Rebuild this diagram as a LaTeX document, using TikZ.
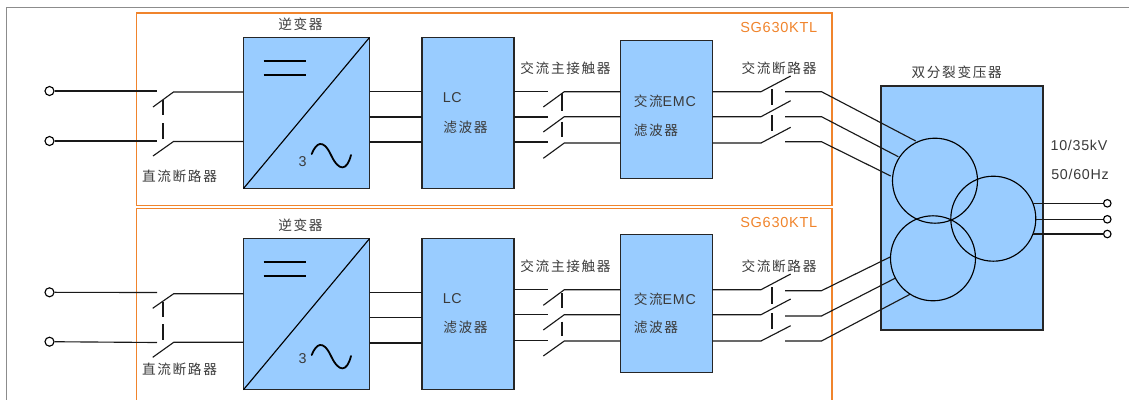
\documentclass[tikz,border=0pt]{standalone}
\usepackage{fontspec}
\setmainfont[LetterSpace=5]{Liberation Sans}
\newfontfamily\cjk[LetterSpace=12]{Noto Sans CJK SC}
\newcommand\cn{\cjk\fontsize{10.25pt}{12pt}\selectfont}
\definecolor{blk}{HTML}{99CCFF}
\definecolor{org}{HTML}{F0842C}
\definecolor{txt}{HTML}{3A3A3A}
\tikzset{
 x=0.75pt,y=-0.75pt,
 wire/.style={draw=black!90,line width=0.85pt},
 link/.style={draw=black!90,line width=0.85pt},
 block/.style={draw=black!85,line width=1pt,fill=blk,inner sep=0pt,outer sep=0pt,minimum width=#1},
 lbl/.style={text=txt,font=\fontsize{10.7pt}{12pt}\selectfont,inner sep=0pt},
 orglbl/.style={text=org,font=\fontsize{10.9pt}{12pt}\selectfont,inner sep=0pt},
 unitbox/.style={draw=org,line width=0.9pt},
 term/.style={circle,draw=black,line width=0.85pt,fill=white,inner sep=0pt,minimum size=#1},
 coil/.style={circle,draw=black,line width=0.85pt,inner sep=0pt,minimum size=85*0.75pt},
}
\begin{document}
\begin{tikzpicture}
\useasboundingbox (0,0) rectangle (1129,400);
\draw[draw=black!45,line width=0.8pt] (6.5,400) -- (6.5,7.5) -- (1129,7.5);
\draw[unitbox] (136.5,13) rectangle (832,205.5);
\draw[unitbox] (136.5,400) -- (136.5,208.5) -- (832,208.5) -- (832,400);
% ---------- blocks
\node[block=126*0.75pt,minimum height=151*0.75pt] (inv1) at (306.5,113) {};
\node[block=92*0.75pt,minimum height=151*0.75pt] (lc1) at (468,113) {};
\node[block=92*0.75pt,minimum height=138*0.75pt] (emc1) at (666.3,109.3) {};
\node[block=126*0.75pt,minimum height=151*0.75pt] (inv2) at (306.5,314.2) {};
\node[block=92*0.75pt,minimum height=151*0.75pt] (lc2) at (468,314.2) {};
\node[block=92*0.75pt,minimum height=138*0.75pt] (emc2) at (666.3,303.3) {};
\node[block=162*0.75pt,minimum height=244*0.75pt] (tr) at (962,208) {};
% inverter symbols
\draw[line width=0.85pt] (inv1.south west) -- (inv1.north east);
\draw[line width=0.85pt] (inv2.south west) -- (inv2.north east);
\draw[line width=1pt] (263.5,61) -- (306,61) (263.5,75) -- (306,75);
\draw[line width=1pt] (263.5,262) -- (306,262) (263.5,276) -- (306,276);
\draw[line width=1.35pt,line cap=round] (311.7,154) .. controls (316,143) and (323,138) .. (331,155) .. controls (339,172) and (347,171) .. (351,155);
\draw[line width=1.35pt,line cap=round] (311.7,355) .. controls (316,344) and (323,339) .. (331,356) .. controls (339,373) and (347,372) .. (351,356);
\node[lbl] (three1) at (302.5,162) {3};
\node[lbl] (three2) at (302.5,359) {3};
% ---------- terminals
\node[term=9*0.75pt] (a1) at (49.5,91) {};
\node[term=9*0.75pt] (a2) at (49.5,141) {};
\node[term=9*0.75pt] (b1) at (49.5,292.3) {};
\node[term=9*0.75pt] (b2) at (49.5,341.7) {};
\node[term=7.5*0.75pt] (o1) at (1107.3,203.3) {};
\node[term=7.5*0.75pt] (o2) at (1107.3,219.3) {};
\node[term=7.5*0.75pt] (o3) at (1107.3,234) {};
% ---------- DC breaker, upper
\coordinate (s1a) at (157,91); \coordinate (s1b) at (157,141);
\draw[wire] (a1) -- (s1a);
\draw[wire] (a2) -- (s1b);
\draw[wire] (153,107) -- (173.5,92) -- (inv1.west |- 0,92);
\draw[wire] (153,156) -- (173.5,141.5) -- (inv1.west |- 0,141.5);
\draw[link] (163,100) -- (163,115) (163,123) -- (163,139);
% upper AC wires inv -> lc
\draw[wire] (inv1.east |- 0,91.5) -- (lc1.west |- 0,91.5);
\draw[wire] (inv1.east |- 0,117) -- (lc1.west |- 0,117);
\draw[wire] (inv1.east |- 0,142) -- (lc1.west |- 0,142);
% upper contactor
\draw[wire] (lc1.east |- 0,91.5) -- (548,91.5);
\draw[wire] (lc1.east |- 0,117) -- (548,117);
\draw[wire] (lc1.east |- 0,142) -- (548,142);
\draw[wire] (543.3,107) -- (564.3,91.7) -- (emc1.west |- 0,91.7);
\draw[wire] (543.3,132) -- (564.3,116.7) -- (emc1.west |- 0,116.7);
\draw[wire] (543.3,158.3) -- (564.3,143) -- (emc1.west |- 0,143);
\draw[link] (562,92.7) -- (562,110.7) (562,121.7) -- (562,137.3);
% upper AC breaker
\draw[wire] (emc1.east |- 0,91.7) -- (761,91.7) -- (790.7,76);
\draw[wire] (emc1.east |- 0,116.7) -- (761,116.7) -- (790.7,100.7);
\draw[wire] (emc1.east |- 0,143) -- (761,143) -- (790.7,127.3);
\draw[link] (772,89) -- (772,105) (772,115) -- (772,131);
\draw[wire] (785,91.7) -- (821.5,91.7) -- (915.7,141);
\draw[wire] (785,116.7) -- (821.5,116.7) -- (898.3,156.7);
\draw[wire] (785,141.7) -- (821.5,141.7) -- (890.7,176);
% ---------- DC breaker, lower
\coordinate (s2a) at (157,292.5); \coordinate (s2b) at (157,342.5);
\draw[wire] (b1) -- (s2a);
\draw[wire] (b2) -- (s2b);
\draw[wire] (152.7,308.3) -- (173.7,293.7) -- (inv2.west |- 0,293.7);
\draw[wire] (152.7,357.3) -- (173.7,342.3) -- (inv2.west |- 0,342.3);
\draw[link] (163,301.7) -- (163,316.7) (163,324) -- (163,340);
% lower inv -> lc
\draw[wire] (inv2.east |- 0,292.7) -- (lc2.west |- 0,292.7);
\draw[wire] (inv2.east |- 0,317.7) -- (lc2.west |- 0,317.7);
\draw[wire] (inv2.east |- 0,343) -- (lc2.west |- 0,343);
% lower contactor
\draw[wire] (lc2.east |- 0,289.7) -- (548,289.7);
\draw[wire] (lc2.east |- 0,314.7) -- (548,314.7);
\draw[wire] (lc2.east |- 0,340.3) -- (548,340.3);
\draw[wire] (543.3,305.3) -- (564.3,289.7) -- (emc2.west |- 0,289.7);
\draw[wire] (543.3,330) -- (564.3,314.7) -- (emc2.west |- 0,314.7);
\draw[wire] (543.3,356) -- (564.3,341) -- (emc2.west |- 0,341);
\draw[link] (562,293) -- (562,308) (562,321.7) -- (562,336);
% lower AC breaker
\draw[wire] (emc2.east |- 0,289.7) -- (761,289.7) -- (790.7,274);
\draw[wire] (emc2.east |- 0,314.7) -- (761,314.7) -- (790.7,299);
\draw[wire] (emc2.east |- 0,341) -- (761,341) -- (790.7,325.7);
\draw[link] (772,287.3) -- (772,304) (772,313.3) -- (772,329.3);
\draw[wire] (785,290.7) -- (821.5,290.7) -- (890.7,256.7);
\draw[wire] (785,316) -- (821.5,316) -- (895,278.3);
\draw[wire] (785,341) -- (821.5,341) -- (910,294.3);
% ---------- transformer
\node[coil] (c1) at (935,180.7) {};
\node[coil] (c2) at (993.3,218.7) {};
\node[coil] (c3) at (933,258.3) {};
\draw[wire] (1033.3,203.3) -- (o1);
\draw[wire] (1036,219.3) -- (o2);
\draw[wire] (1033.3,234) -- (o3);
% ---------- labels
\node[lbl] (t1) at (300.5,24) {\cn 逆变器};
\node[lbl] (t2) at (179.5,176) {\cn 直流断路器};
\node[lbl,anchor=west] (t3) at (442.5,98) {LC};
\node[lbl,anchor=west] (t4) at (443,127) {\cn 滤波器};
\node[lbl] (t5) at (565.5,68) {\cn 交流主接触器};
\node[lbl,anchor=west] (t6) at (633.5,101) {{\cn 交流}EMC};
\node[lbl,anchor=west] (t7) at (633.5,130) {\cn 滤波器};
\node[lbl] (t8) at (779,68) {\cn 交流断路器};
\node[orglbl,anchor=east] (t9) at (817.5,27) {SG630KTL};
\node[lbl] (u1) at (300.5,225) {\cn 逆变器};
\node[lbl] (u2) at (179.5,369) {\cn 直流断路器};
\node[lbl,anchor=west] (u3) at (442.5,298.7) {LC};
\node[lbl,anchor=west] (u4) at (443,327.7) {\cn 滤波器};
\node[lbl] (u5) at (565.5,266.7) {\cn 交流主接触器};
\node[lbl,anchor=west] (u6) at (633.5,299) {{\cn 交流}EMC};
\node[lbl,anchor=west] (u7) at (633.5,327.7) {\cn 滤波器};
\node[lbl] (u8) at (779,266.7) {\cn 交流断路器};
\node[orglbl,anchor=east] (u9) at (817.5,222) {SG630KTL};
\node[lbl] (v1) at (956.7,72) {\cn 双分裂变压器};
\node[lbl] (v2) at (1079,145) {10/35kV};
\node[lbl] (v3) at (1080,174) {50/60Hz};
\end{tikzpicture}
\end{document}
